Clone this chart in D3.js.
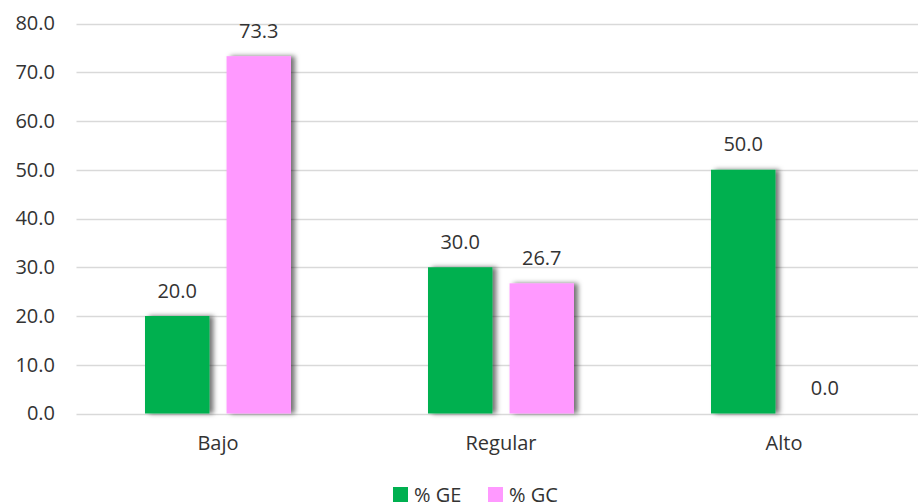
<!DOCTYPE html>
<html><head><meta charset="utf-8">
<script src="https://cdn.jsdelivr.net/npm/d3@7"></script>
<style>
html,body{margin:0;padding:0;background:#fff;}
svg{display:block;font-family:"Open Sans","Segoe UI",sans-serif;}
</style></head>
<body>
<svg id="c" width="918" height="503"></svg>
<script>
const categories = ["Bajo", "Regular", "Alto"];
const seriesNames = ["% GE", "% GC"];
const seriesGE = [20.0, 30.0, 50.0];
const seriesGC = [73.3, 26.7, 0.0];
const yTicks = [0, 10, 20, 30, 40, 50, 60, 70, 80];
const colors = ["#00B050", "#FF99FF"];

(function(){
const svg = d3.select("#c");
const FS = 20;
const TXT = "#333333";
const defs = svg.append("defs");
const f = defs.append("filter").attr("id","sh").attr("x","-20%").attr("y","-20%").attr("width","150%").attr("height","140%");
f.append("feDropShadow").attr("dx",4).attr("dy",0).attr("stdDeviation",2.5).attr("flood-color","#000").attr("flood-opacity",0.55);

const pLeft = 76.5, pRight = 925.5, pTop = 23.5, pBottom = 413.5;
const y = d3.scaleLinear().domain([0, 80]).range([pBottom, pTop]);
const x0 = d3.scaleBand().domain(categories).range([pLeft, pRight]).paddingInner(137/283).paddingOuter(137/566);
const x1 = d3.scaleBand().domain(seriesNames).range([0, x0.bandwidth()]).paddingInner(17/81);

svg.append("g").selectAll("line").data(yTicks).join("line")
  .attr("x1", pLeft).attr("x2", 918)
  .attr("y1", d => Math.round(y(d)) + 0.5).attr("y2", d => Math.round(y(d)) + 0.5)
  .attr("stroke", "#d9d9d9").attr("stroke-width", 1.3);

const yAxis = d3.axisLeft(y).tickValues(yTicks).tickFormat(d3.format(".1f")).tickSize(0).tickPadding(0);
const ga = svg.append("g").attr("transform", `translate(55,0)`).call(yAxis);
ga.select(".domain").remove();
ga.selectAll("text").attr("font-size", FS).attr("fill", TXT).attr("font-family", "'Open Sans',sans-serif");

const data = categories.map((c, i) => ({cat: c, vals: [seriesGE[i], seriesGC[i]]}));

const groups = svg.append("g").selectAll("g").data(data).join("g")
  .attr("transform", d => `translate(${x0(d.cat)},0)`);

groups.selectAll("rect").data(d => d.vals.map((v, j) => ({s: seriesNames[j], v, j}))).join("rect")
  .attr("x", d => x1(d.s)).attr("width", x1.bandwidth())
  .attr("y", d => y(d.v)).attr("height", d => y(0) - y(d.v))
  .attr("fill", d => colors[d.j]).attr("filter", "url(#sh)");

groups.selectAll("text.v").data(d => d.vals.map((v, j) => ({s: seriesNames[j], v, j}))).join("text")
  .attr("class", "v")
  .attr("x", d => x1(d.s) + x1.bandwidth() / 2)
  .attr("y", d => y(d.v) - 18.5)
  .attr("text-anchor", "middle").attr("font-size", FS).attr("fill", TXT)
  .text(d => d3.format(".1f")(d.v));

const xAxis = d3.axisBottom(x0).tickSize(0).tickPadding(0);
const gx = svg.append("g").attr("transform", `translate(0,${pBottom})`).call(xAxis);
gx.select(".domain").remove();
gx.selectAll("text").attr("dy", null).attr("y", 36.5).attr("font-size", FS).attr("fill", TXT).attr("font-family", "'Open Sans',sans-serif");

const legendX = [393, 488];
const lg = svg.append("g").selectAll("g").data(seriesNames).join("g")
  .attr("transform", (d, i) => `translate(${legendX[i]},487)`);
lg.append("rect").attr("width", 15).attr("height", 15).attr("fill", (d, i) => colors[i]);
lg.append("text").attr("x", 21).attr("y", 14.5).attr("font-size", FS).attr("fill", TXT).text(d => d);
})();
</script>
</body></html>
